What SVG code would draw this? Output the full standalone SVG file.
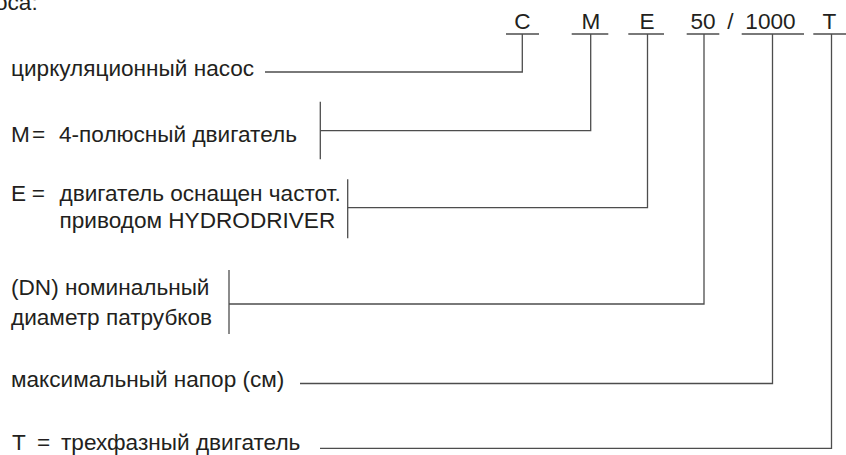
<svg xmlns="http://www.w3.org/2000/svg" width="846" height="455" viewBox="0 0 846 455">
<style>
text{font-family:"Liberation Sans",Arial,sans-serif;font-size:22.6px;fill:#231f20}
.c{text-anchor:middle}
line,polyline{stroke:#4d4d4d;stroke-width:1.3;fill:none}
</style>
<rect width="846" height="455" fill="#fff"/>
<g id="title"><text x="-5" y="10">оса:</text></g>
<g id="code">
<text class="c" x="522.3" y="28.5">C</text>
<text class="c" x="590.8" y="28.5">M</text>
<text class="c" x="647" y="28.5">E</text>
<text class="c" x="703" y="28.5">50</text>
<text class="c" x="730.5" y="28.5">/</text>
<text class="c" x="770.5" y="28.5">1000</text>
<text class="c" x="829.5" y="28.5">T</text>
<line x1="506" y1="34" x2="539" y2="34"/>
<line x1="571.7" y1="34" x2="608.3" y2="34"/>
<line x1="628.3" y1="34" x2="664" y2="34"/>
<line x1="686.7" y1="34" x2="719.3" y2="34"/>
<line x1="741.7" y1="34" x2="804" y2="34"/>
<line x1="813.3" y1="34" x2="846" y2="34"/>
</g>
<g id="n1"><text x="11" y="76">циркуляционный насос</text></g>
<g id="n2"><text x="11" y="142">M</text><text x="32" y="142">=</text><text x="59" y="142">4-полюсный двигатель</text></g>
<g id="n3"><text x="11" y="201">E</text><text x="31.7" y="201">=</text><text x="59.5" y="201">двигатель оснащен частот.</text><text x="59.5" y="228">приводом HYDRODRIVER</text></g>
<g id="n4"><text x="11" y="295">(DN) номинальный</text><text x="11" y="325">диаметр патрубков</text></g>
<g id="n5"><text x="11" y="387">максимальный напор (см)</text></g>
<g id="n6"><text x="12" y="450">T</text><text x="37" y="450">=</text><text x="61" y="450">трехфазный двигатель</text></g>
<g id="connectors">
<polyline points="265,72 522.3,72 522.3,34"/>
<line x1="320.3" y1="101.7" x2="320.3" y2="159.3"/>
<polyline points="320.3,130.7 590.7,130.7 590.7,34"/>
<line x1="347.7" y1="179.3" x2="347.7" y2="238.3"/>
<polyline points="347.7,207.7 647.5,207.7 647.5,34"/>
<line x1="229" y1="270" x2="229" y2="334"/>
<polyline points="229,304 704,304 704,34"/>
<polyline points="300,383.5 772.5,383.5 772.5,34"/>
<polyline points="320,448.3 831.5,448.3 831.5,34"/>
</g>
</svg>
